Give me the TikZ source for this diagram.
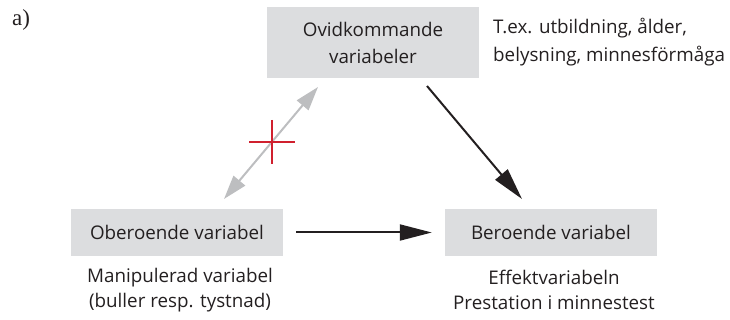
\documentclass[tikz,border=0pt]{standalone}
\usepackage{fontspec}
\setsansfont{Open Sans}
\newfontfamily\serifa{Liberation Serif}
\usetikzlibrary{arrows.meta}
\definecolor{boxgray}{HTML}{DCDDDF}
\definecolor{arrgray}{HTML}{BDBEC0}
\definecolor{crossred}{HTML}{D0202E}
\definecolor{txt}{HTML}{231F20}
\begin{document}
\begin{tikzpicture}[x=1pt,y=-1pt,
  box/.style={fill=boxgray,draw=none,inner sep=0pt,align=center,text=txt,font=\sffamily\fontsize{18.8}{27}\selectfont},
  lbl/.style={inner sep=0pt,align=center,text=txt,font=\sffamily\fontsize{18.8}{24.5}\selectfont},
  blackarr/.style={draw=txt,line width=2pt,-{Triangle[length=32pt,width=16pt]}},
  grayarr/.style={draw=arrgray,line width=2pt,{Triangle[length=24pt,width=15pt]}-{Triangle[length=24pt,width=15pt]}}]
\useasboundingbox (0,0) rectangle (730,320);
\node[box,minimum width=212pt,minimum height=71pt] (ov) at (373,42.5) {Ovidkommande\\variabeler};
\node[box,minimum width=212pt,minimum height=47pt] (ob) at (177,232.5) {Oberoende variabel};
\node[box,minimum width=212pt,minimum height=47pt] (be) at (551,232.5) {Beroende variabel};
\node[lbl,align=left,anchor=west,font=\sffamily\fontsize{18.8}{28}\selectfont] (tex) at (493,42) {T.ex. utbildning, ålder,\\belysning, minnesförmåga};
\node[lbl] (man) at (180,290) {Manipulerad variabel\\(buller resp. tystnad)};
\node[lbl] (eff) at (554,290) {Effektvariabeln\\Prestation i minnestest};
\node[inner sep=0pt,font=\serifa\fontsize{23}{25}\selectfont,text=txt] (a) at (21,20) {a)};
\coordinate (d1) at (427,86);
\coordinate (d2) at (522,199);
\coordinate (g1) at (318,87);
\coordinate (g2) at (224,199);
\coordinate (cc) at (272,142);
\draw[blackarr,shorten <=13pt,shorten >=13pt] (ob) -- (be);
\draw[blackarr] (d1) -- (d2);
\draw[grayarr] (g1) -- (g2);
\draw[crossred,line width=1.2pt] (cc) ++(-23,0) -- ++(46,0);
\draw[crossred,line width=1.2pt] (cc) ++(0,-22) -- ++(0,44);
\end{tikzpicture}
\end{document}
